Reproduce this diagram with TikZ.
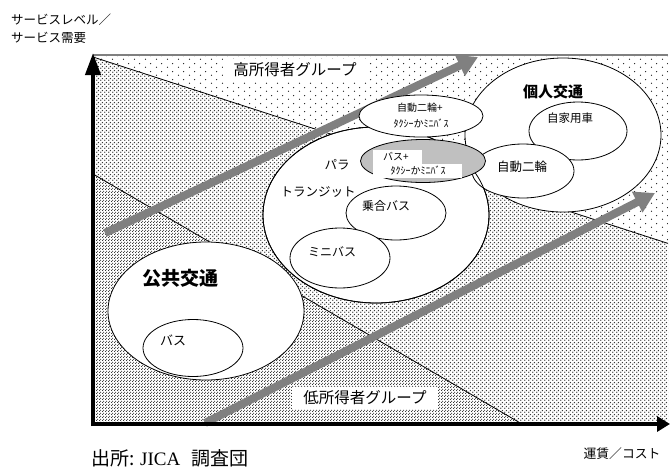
\documentclass[tikz,border=0pt]{standalone}
\usepackage{fontspec}
\setmainfont{Liberation Serif}
\newfontfamily\jp{Noto Sans CJK JP}
\usetikzlibrary{shapes.geometric,arrows.meta,patterns.meta}
\definecolor{garrow}{HTML}{808080}
\definecolor{gfill}{HTML}{C0C0C0}
\tikzdeclarepattern{name=sparsedots, type=uncolored, tile size={(11pt,8pt)},
  bounding box={(0pt,0pt) and (11pt,8pt)},
  code={\fill (2.75pt,2pt) circle (0.75pt); \fill (8.25pt,6pt) circle (0.75pt);}}
\tikzdeclarepattern{name=middots, type=uncolored, tile size={(4pt,4pt)},
  bounding box={(0pt,0pt) and (4pt,4pt)},
  code={\fill (1pt,1pt) circle (0.9pt); \fill (3pt,3pt) circle (0.9pt);}}
\tikzdeclarepattern{name=densedots, type=uncolored, tile size={(3pt,3pt)},
  bounding box={(0pt,0pt) and (3pt,3pt)},
  code={\fill (0.75pt,0.75pt) circle (0.74pt); \fill (2.25pt,2.25pt) circle (0.74pt);}}
\begin{document}
\begin{tikzpicture}[x=1pt,y=-1pt,
  ell/.style={ellipse, draw=black, line width=0.8pt, fill=white, inner sep=0pt},
  lbl/.style={font=\jp, inner sep=0pt},
  grarrow/.style={line width=8pt, draw=garrow, -{Triangle[width=22pt,length=20pt]}},
  axisline/.style={line width=4pt, draw=black},
  sepline/.style={line width=0.8pt, draw=black}
]
\useasboundingbox (0,0) rectangle (670,469);
% corner coordinates
\coordinate (tl) at (93,55);
\coordinate (tr) at (668,55);
\coordinate (a0) at (93,57);
\coordinate (a1) at (668,243.4);
\coordinate (b0) at (93,174);
\coordinate (b1) at (522,424);
\coordinate (br) at (668,424);
\coordinate (o) at (93,424);
% regions
\fill[white] (tl) rectangle (br);
\fill[pattern=sparsedots, pattern color=black!90] (tl) -- (tr) -- (a1) -- (a0) -- cycle;
\fill[pattern=middots, pattern color=black!78] (a0) -- (a1) -- (br) -- (b1) -- (b0) -- cycle;
\fill[pattern=densedots, pattern color=black!85] (b0) -- (b1) -- (o) -- cycle;
\draw[sepline] (a0) -- (a1);
\draw[sepline] (b0) -- (b1);
\draw[garrow, line width=1.5pt] (tl) -- (tr);
% growth arrows
\coordinate (h0) at (105,233);
\coordinate (h1) at (478,57);
\coordinate (l0) at (205,423);
\coordinate (l1) at (655,193);
\draw[grarrow] (h0) -- (h1);
\draw[grarrow] (l0) -- (l1);
% ellipses
\node[ell, minimum width=196pt, minimum height=138pt] (pub) at (206,311) {};
\node[ell, minimum width=100pt, minimum height=57pt] (bus) at (193,348) {};
\node[ell, minimum width=196pt, minimum height=154pt] (pvt) at (563,135) {};
\node[ell, minimum width=98pt, minimum height=58pt] (car) at (578,131) {};
\node[ell, minimum width=226pt, minimum height=176pt] (para) at (376,215) {};
\node[ell, minimum width=102pt, minimum height=54pt] (moto) at (523,171) {};
\draw[line width=0.8pt] (para.center) ellipse [x radius=113pt, y radius=88pt];
\node[ell, minimum width=100pt, minimum height=54pt] (shared) at (396,213) {};
\node[ell, minimum width=100pt, minimum height=60pt] (mini) at (340,258) {};
\node[ell, minimum width=124pt, minimum height=42pt] (motx) at (421,116) {};
\node[ell, fill=gfill, minimum width=125pt, minimum height=43pt] (busx) at (423,161) {};
% white boxes in gray ellipse
\node[fill=white, inner sep=0pt, minimum width=49pt, minimum height=14pt] (bxa) at (397.5,157) {};
\node[fill=white, inner sep=0pt, minimum width=89pt, minimum height=14pt] (bxb) at (417.5,171) {};
% labels
\node[lbl, fill=white, inner xsep=10pt, inner ysep=4pt, font=\jp\fontsize{15.5}{15.5}\selectfont] (hi) at (295,70) {高所得者グループ};
\node[lbl, fill=white, inner xsep=11pt, inner ysep=4pt, font=\jp\fontsize{15.5}{15.5}\selectfont] (lo) at (365,398) {低所得者グループ};
\node[lbl, font=\jp\bfseries\fontsize{19}{19}\selectfont] (pubt) at (180,278) {公共交通};
\node[lbl, font=\jp\fontsize{13}{13}\selectfont] (bust) at (173,340) {バス};
\node[lbl, font=\jp\fontsize{15}{15}\selectfont\bfseries] (pvtt) at (553,92) {個人交通};
\node[lbl, font=\jp\fontsize{11.5}{11.5}\selectfont] (cart) at (570,118) {自家用車};
\node[lbl, font=\jp\fontsize{12.5}{12.5}\selectfont] (motot) at (522,167) {自動二輪};
\node[lbl, font=\jp\fontsize{12}{12}\selectfont] (sharedt) at (386,206) {乗合バス};
\node[lbl, font=\jp\fontsize{12}{12}\selectfont] (minit) at (332,252) {ミニバス};
\node[lbl, font=\jp\fontsize{12.5}{12.5}\selectfont] (parat) at (337,165) {パラ};
\node[lbl, font=\jp\fontsize{12.5}{12.5}\selectfont] (transt) at (318,192) {トランジット};
\node[lbl, font=\jp\fontsize{10}{10}\selectfont] (motxa) at (420,108) {自動二輪+};
\node[lbl, font=\jp\fontsize{10}{10}\selectfont] (motxb) at (421,124) {ﾀｸｼｰかﾐﾆﾊﾞｽ};
\node[lbl, font=\jp\fontsize{10}{10}\selectfont] (busxa) at (396,157) {バス+};
\node[lbl, font=\jp\fontsize{10}{10}\selectfont] (busxb) at (418,171) {ﾀｸｼｰかﾐﾆﾊﾞｽ};
\node[lbl, anchor=west, font=\jp\fontsize{12.5}{12.5}\selectfont] (yl1) at (11,20) {サービスレベル／};
\node[lbl, anchor=west, font=\jp\fontsize{12.5}{12.5}\selectfont] (yl2) at (11,38) {サービス需要};
\node[lbl, font=\jp\fontsize{12.8}{12.8}\selectfont] (xl) at (622,454) {運賃／コスト};
\node[lbl, anchor=west, font=\jp\fontsize{19}{19}\selectfont] (src) at (91,458) {出所: {\rmfamily JICA}\hspace{0.6em}調査団};
% axes
\coordinate (ytip) at (93,53);
\coordinate (xtip) at (670,424);
\coordinate (ybase) at (93,426);
\draw[axisline, -{Triangle[width=15pt,length=22pt]}] (ybase) -- (ytip);
\draw[axisline, -{Triangle[width=15pt,length=13pt]}] (o) -- (xtip);
\end{tikzpicture}
\end{document}
